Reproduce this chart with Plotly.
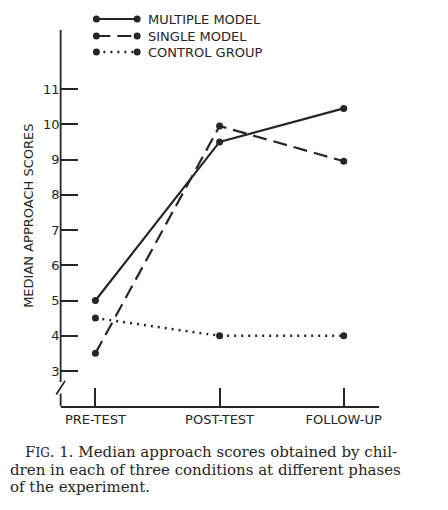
import plotly.graph_objects as go

phases = ['PRE-TEST', 'POST-TEST', 'FOLLOW-UP']
multiple_model = [5.0, 9.5, 10.45]
single_model = [3.5, 9.95, 8.95]
control_group = [4.5, 4.0, 4.0]
y_ticks = [3, 4, 5, 6, 7, 8, 9, 10, 11]

INK = '#262626'
SANS = 'DejaVu Sans'
SERIF = 'DejaVu Serif'
W, H = 448, 510
OFF = 8  # the page body adds an 8px margin, pull everything back by that much


def px(x):
    return (x - OFF) / W


def py(y):
    return (H - (y - OFF)) / H


x_pos = list(range(len(phases)))

fig = go.Figure()

series = [
    ('MULTIPLE MODEL', multiple_model, 'solid'),
    ('SINGLE MODEL', single_model, '14px,7px'),
    ('CONTROL GROUP', control_group, '2px,5px'),
]

for name, values, dash in series:
    fig.add_trace(go.Scatter(
        x=x_pos, y=values, name=name, mode='lines+markers',
        line=dict(color=INK, width=2.2 if dash != '2px,5px' else 2.5, dash=dash),
        marker=dict(color=INK, size=7),
        showlegend=False, cliponaxis=False))

# hand drawn legend, on its own paper-like axes
legend_y = [19, 36, 52]
for (name, values, dash), ly in zip(series, legend_y):
    fig.add_trace(go.Scatter(
        x=[px(97), px(138)], y=[py(ly), py(ly)], mode='lines+markers',
        line=dict(color=INK, width=2.2 if dash != '2px,5px' else 2.5, dash=dash),
        marker=dict(color=INK, size=7),
        xaxis='x2', yaxis='y2', showlegend=False, hoverinfo='skip'))
    fig.add_annotation(x=px(147), y=py(ly), xref='paper', yref='paper', text=name,
                       showarrow=False, xanchor='left', yanchor='middle',
                       font=dict(family=SANS, size=13, color=INK))

fig.update_layout(
    width=W, height=H,
    margin=dict(l=0, r=0, t=0, b=0),
    paper_bgcolor='white', plot_bgcolor='rgba(0,0,0,0)',
    xaxis=dict(domain=[px(61), px(381)], range=[-0.28, 2.28],
               tickvals=x_pos, ticktext=phases,
               ticks='inside', ticklen=18, tickwidth=1.5, tickcolor=INK,
               showline=True, linecolor=INK, linewidth=1.8,
               showgrid=False, zeroline=False,
               tickfont=dict(family=SANS, size=13, color=INK)),
    yaxis=dict(domain=[py(406), py(30)], range=[2.007, 12.674],
               tickvals=y_ticks, ticktext=[str(v) for v in y_ticks],
               ticks='inside', ticklen=17, tickwidth=1.5, tickcolor=INK,
               showline=False, showgrid=False, zeroline=False,
               tickfont=dict(family=SANS, size=13, color=INK)),
    xaxis2=dict(domain=[0, 1], range=[0, 1], visible=False, anchor='y2'),
    yaxis2=dict(domain=[0, 1], range=[0, 1], visible=False, anchor='x2'),
)

# y axis line with a break near the bottom
fig.add_shape(type='line', xref='x domain', yref='y', x0=0, x1=0, y0=2.69, y1=12.674,
              line=dict(color=INK, width=1.8))
fig.add_shape(type='line', xref='x domain', yref='y', x0=0, x1=0, y0=2.007, y1=2.36,
              line=dict(color=INK, width=1.8))
fig.add_shape(type='line', xref='x domain', yref='y', x0=-0.014, x1=0.014, y0=2.33, y1=2.72,
              line=dict(color=INK, width=1.8))

fig.add_annotation(x=px(28), y=py(216), xref='paper', yref='paper',
                   text='MEDIAN APPROACH SCORES', textangle=-90, showarrow=False,
                   xanchor='center', yanchor='middle',
                   font=dict(family=SANS, size=13, color=INK))

caption = [
    ('F<span style="font-size:12px">IG</span>. 1. Median approach scores obtained by chil-', 23),
    ('dren in each of three conditions at different phases', 8),
    ('of the experiment.', 8),
]
for i, (line, left) in enumerate(caption):
    fig.add_annotation(x=px(left), y=py(452 + 17.5 * i), xref='paper', yref='paper',
                       text=line, showarrow=False, xanchor='left', yanchor='middle',
                       font=dict(family=SERIF, size=15, color=INK))

fig.write_html('out.html')
